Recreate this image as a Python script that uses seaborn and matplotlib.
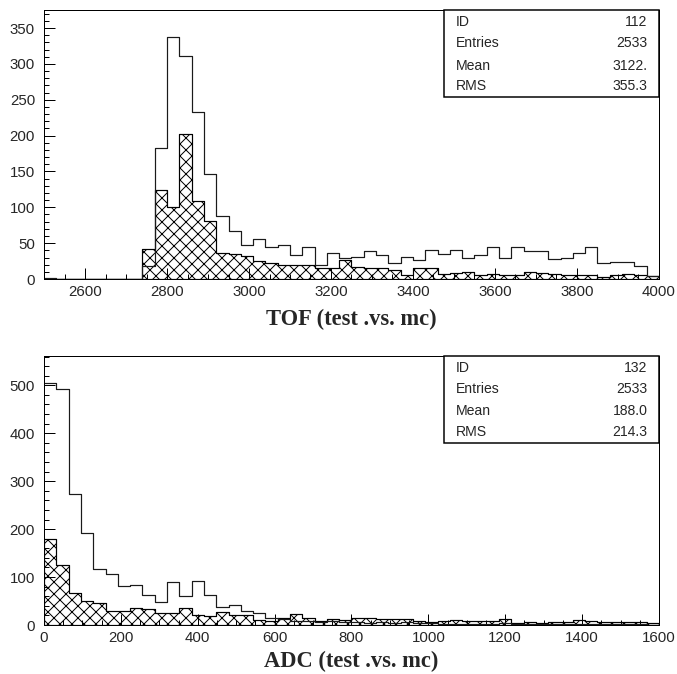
import numpy as np
import pandas as pd
import matplotlib
matplotlib.use("Agg")
import matplotlib.pyplot as plt
from matplotlib.patches import Rectangle
from matplotlib.ticker import MultipleLocator
import seaborn as sns

# --- TOF histogram (2500..4000, 50 bins of 30) ---
tof_lo, tof_hi, tof_nbins = 2500, 4000, 50
tof_test = [1, 0, 0, 0, 0, 0, 0, 0, 18, 183,
            338, 311, 233, 146, 88, 67, 48, 56, 44, 48,
            34, 44, 19, 36, 30, 31, 39, 33, 23, 31,
            26, 40, 35, 41, 30, 34, 44, 29, 44, 39,
            39, 28, 29, 37, 44, 23, 24, 24, 18, 4]
tof_mc = [0, 0, 0, 0, 0, 0, 0, 0, 42, 124,
          100, 202, 109, 81, 37, 35, 32, 25, 23, 19,
          20, 19, 15, 16, 26, 17, 16, 15, 12, 6,
          15, 16, 7, 9, 10, 6, 7, 6, 6, 10,
          8, 7, 6, 6, 5, 3, 6, 7, 6, 4]
tof_stats = [("ID", "112"), ("Entries", "2533"), ("Mean", "3122."), ("RMS", "355.3")]

# --- ADC histogram (0..1600, 50 bins of 32) ---
adc_lo, adc_hi, adc_nbins = 0, 1600, 50
adc_test = [504, 492, 273, 192, 117, 106, 81, 83, 63, 49,
            89, 60, 91, 62, 37, 41, 29, 26, 14, 12,
            9, 8, 7, 8, 6, 7, 5, 6, 5, 6,
            4, 5, 3, 3, 3, 3, 3, 4, 2, 2,
            3, 2, 2, 3, 2, 2, 2, 2, 2, 1]
adc_mc = [179, 125, 66, 51, 45, 29, 30, 35, 34, 26,
          26, 35, 21, 18, 27, 20, 20, 10, 8, 14,
          22, 14, 9, 13, 10, 15, 14, 12, 13, 12,
          9, 7, 8, 10, 8, 8, 8, 12, 5, 6,
          5, 6, 7, 10, 8, 7, 7, 7, 6, 5]
adc_stats = [("ID", "132"), ("Entries", "2533"), ("Mean", "188.0"), ("RMS", "214.3")]

sns.set_style("ticks")
plt.rcParams['font.family'] = ['Liberation Sans', 'DejaVu Sans']
plt.rcParams['hatch.linewidth'] = 1.0

DPI = 72
fig = plt.figure(figsize=(677 / DPI, 674 / DPI), dpi=DPI)
ax_top = fig.add_axes([0.065, 0.586, 0.9084, 0.399])
ax_bot = fig.add_axes([0.065, 0.0727, 0.9084, 0.399])


def draw_hist(ax, lo, hi, nbins, test, mc):
    width = (hi - lo) / nbins
    centers = lo + width * (np.arange(nbins) + 0.5)
    df = pd.DataFrame({"x": centers, "test": test, "mc": mc})
    sns.histplot(data=df, x="x", weights="test", binwidth=width, binrange=(lo, hi),
                 element="step", fill=False, color="#1a1a1a", linewidth=1.2, ax=ax)
    sns.histplot(data=df, x="x", weights="mc", binwidth=width, binrange=(lo, hi),
                 element="step", fill=True, color="black", facecolor="none",
                 edgecolor="black", hatch="xx", linewidth=1.2, alpha=1, ax=ax)


def stats_box(ax, rows):
    ax.add_patch(Rectangle((0.650, 0.6766), 0.35, 0.3234, transform=ax.transAxes,
                           facecolor="white", edgecolor="black", linewidth=1.5,
                           zorder=5, clip_on=False))
    ys = [0.956, 0.877, 0.794, 0.716]
    for (name, val), y in zip(rows, ys):
        ax.text(0.670, y, name, transform=ax.transAxes, ha="left", va="center",
                fontsize=14, zorder=6)
        ax.text(0.981, y, val, transform=ax.transAxes, ha="right", va="center",
                fontsize=14, zorder=6)


def style_axes(ax, xlim, ylim, xmaj, ymaj, ymin, label, label_y):
    ax.set_xlim(*xlim)
    ax.set_ylim(*ylim)
    ax.xaxis.set_major_locator(MultipleLocator(xmaj))
    ax.xaxis.set_minor_locator(MultipleLocator(50))
    ax.yaxis.set_major_locator(MultipleLocator(ymaj))
    ax.yaxis.set_minor_locator(MultipleLocator(ymin))
    ax.tick_params(which="both", direction="in", top=False, right=False,
                   labelsize=15, color="black")
    ax.tick_params(which="major", length=11, width=1.0)
    ax.tick_params(which="minor", length=5, width=1.0)
    ax.tick_params(axis="x", pad=6)
    ax.tick_params(axis="y", pad=9)
    for s in ax.spines.values():
        s.set_visible(True)
        s.set_color("black")
        s.set_linewidth(1.0)
    ax.set_ylabel("")
    ax.set_xlabel(label, fontsize=22.5, fontweight="bold", family="Liberation Serif")
    ax.xaxis.label.set_va("center")
    ax.xaxis.set_label_coords(0.5, label_y)


draw_hist(ax_top, tof_lo, tof_hi, tof_nbins, tof_test, tof_mc)
style_axes(ax_top, (tof_lo, tof_hi), (0, 375), 200, 50, 10, "TOF (test .vs. mc)", -0.152)
ax_top.set_xticks([t for t in range(2600, 4001, 200)])
stats_box(ax_top, tof_stats)

draw_hist(ax_bot, adc_lo, adc_hi, adc_nbins, adc_test, adc_mc)
style_axes(ax_bot, (adc_lo, adc_hi), (0, 561), 200, 100, 20, "ADC (test .vs. mc)", -0.137)
stats_box(ax_bot, adc_stats)

fig.savefig("out.png", dpi=DPI)
